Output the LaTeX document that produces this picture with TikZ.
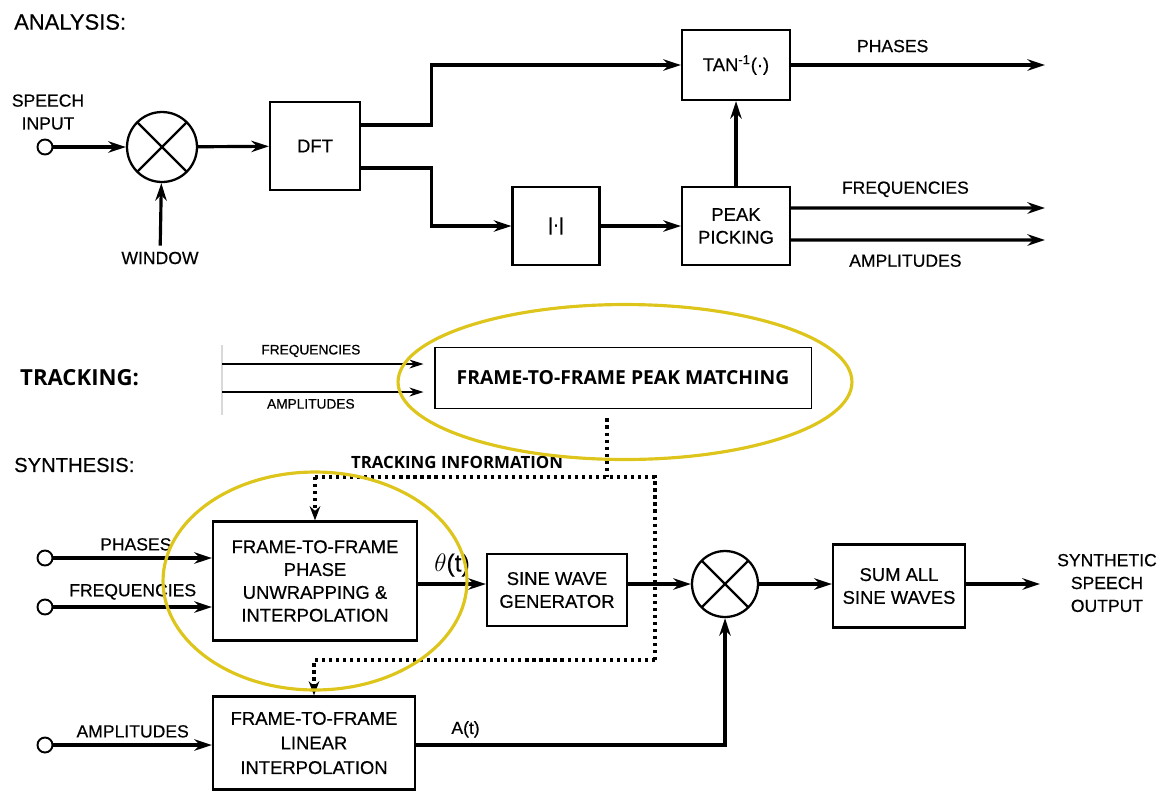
\documentclass[tikz,border=0pt]{standalone}
\usepackage{fontspec}
\setmainfont{Liberation Sans}[FakeBold=0.5]
\newfontfamily\notefont{Open Sans}
\usetikzlibrary{positioning, arrows.meta}
\definecolor{ringyellow}{HTML}{DDC51C}

\begin{document}
\begin{tikzpicture}[
        x=0.02cm, y=-0.02cm,
        >={Stealth[length=10pt, width=6.5pt]},
        font=\fontsize{10}{13}\selectfont,
        block/.style={draw, line width=1.3pt, align=center, inner sep=1pt, font=\fontsize{10.5}{13}\selectfont},
        mixer/.style={draw, circle, line width=1.3pt, minimum size=1.4cm, inner sep=0pt,
            path picture={\draw[line width=1.3pt]
                (path picture bounding box.north west) -- (path picture bounding box.south east)
                (path picture bounding box.north east) -- (path picture bounding box.south west);}},
        port/.style={draw, circle, line width=1.1pt, minimum size=0.3cm, inner sep=0pt, fill=white},
        sig/.style={->, line width=1.8pt},
        thinsig/.style={->, line width=1.3pt, >={Stealth[length=8pt, width=5pt]}},
        track/.style={line width=1.8pt, dash pattern=on 1.8pt off 2.2pt},
        trackarrow/.style={track, ->, >={Stealth[length=8pt, width=6pt]}},
        ring/.style={draw=ringyellow, line width=1.8pt},
        heading/.style={anchor=west, font=\fontsize{12.5}{14}\selectfont},
        note/.style={font=\notefont\bfseries\fontsize{9.6}{11}\selectfont},
        small/.style={font=\fontsize{7.8}{9}\selectfont}
    ]
\useasboundingbox (0,0) rectangle (1159,802);

% analysis
\node[heading] (ttlA) at (8,22) {ANALYSIS:};
\node[align=center] (spIn) at (48,112) {SPEECH\\INPUT};
\node[port] (pIn) at (45,147) {};
\node[mixer] (mixA) at (162,147) {};
\node (win) at (160,258) {WINDOW};
\node[block, minimum width=1.8cm, minimum height=1.76cm] (dft) at (315,146) {DFT};
\node[block, minimum width=2.16cm, minimum height=1.4cm] (atan) at (736,65) {TAN\textsuperscript{-1}(·)};
\node[block, minimum width=1.74cm, minimum height=1.56cm] (mag) at (556,226) {|·|};
\node[block, minimum width=2.16cm, minimum height=1.56cm] (peak) at (736,226) {PEAK\\PICKING};
\coordinate (phOut) at (1045,65);
\coordinate (fqOut) at (1045,208);
\coordinate (amOut) at (1045,240);

\draw[sig] (pIn) -- (mixA);
\draw[sig] (win) -- (mixA);
\draw[sig] (mixA) -- (dft);
\draw[sig] ([yshift=0.42cm]dft.east) -- ++(70,0) |- (atan);
\draw[sig] ([yshift=-0.44cm]dft.east) -- ++(70,0) |- (mag);
\draw[sig] (mag) -- (peak);
\draw[sig] (peak) -- (atan);
\draw[sig] (atan) -- node[above=3pt, pos=0.4] {PHASES} (phOut);
\draw[sig] ([yshift=0.36cm]peak.east) -- node[above=2pt, pos=0.45] {FREQUENCIES} (fqOut);
\draw[sig] ([yshift=-0.28cm]peak.east) -- node[below=4pt, pos=0.45] {AMPLITUDES} (amOut);

% tracking
\node[anchor=west, font=\notefont\bfseries\fontsize{12.6}{14}\selectfont] (ttlT) at (14,378) {TRACKING:};
\node[block, line width=1.1pt, font=\notefont\bfseries\fontsize{11}{13}\selectfont,
    minimum width=7.54cm, minimum height=1.22cm] (match) at (623,378) {FRAME-TO-FRAME PEAK MATCHING};
\coordinate (fqIn) at (222,364);
\coordinate (amIn) at (222,392);
\draw[gray!30, line width=0.6pt] ([yshift=0.38cm]fqIn) -- ([yshift=-0.46cm]amIn);
\draw[thinsig, shorten >=0.2cm] (fqIn) -- node[above, small, pos=0.42] {FREQUENCIES} (match.west |- fqIn);
\draw[thinsig, shorten >=0.2cm] (amIn) -- node[below, small, pos=0.42] {AMPLITUDES} (match.west |- amIn);

% synthesis
\node[heading, font=\fontsize{11.5}{14}\selectfont] (ttlS) at (8,465) {SYNTHESIS:};
\node[note] (trInfo) at (457,462) {TRACKING INFORMATION};
\node[port] (pPh) at (45,558) {};
\node[port] (pFq) at (45,607) {};
\node[port] (pAm) at (45,745) {};
\node[block, minimum width=4.08cm, minimum height=2.38cm] (phase) at (315,581)
    {FRAME-TO-FRAME\\PHASE\\UNWRAPPING \&\\INTERPOLATION};
\node[block, minimum width=2.8cm, minimum height=1.44cm] (sine) at (557,590) {SINE WAVE\\GENERATOR};
\node[mixer, minimum size=1.32cm] (mixS) at (725,584) {};
\node[block, minimum width=2.64cm, minimum height=1.66cm] (sum) at (899,586) {SUM ALL\\SINE WAVES};
\coordinate (synOut) at (1040,584);
\node[align=center] (synLbl) at (1107,583) {SYNTHETIC\\SPEECH\\OUTPUT};
\node[block, minimum width=4.04cm, minimum height=1.86cm, font=\fontsize{10.5}{14}\selectfont] (lin) at (314,743)
    {FRAME-TO-FRAME\\LINEAR\\INTERPOLATION};

\draw[sig] (pPh) -- node[above, pos=0.52] {PHASES} (phase.west |- pPh);
\draw[sig] (pFq) -- node[above] {FREQUENCIES} (phase.west |- pFq);
\draw[sig] (pAm) -- node[above] {AMPLITUDES} (lin.west |- pAm);
\draw[sig] (phase.east |- mixS) -- node[above, font=\fontsize{14}{14}\selectfont] {$\theta$(t)} (sine.west |- mixS);
\draw[sig] (sine.east |- mixS) -- (mixS);
\draw[sig] (mixS) -- (sum.west |- mixS);
\draw[sig] (sum.east |- mixS) -- (synOut);
\draw[sig] (lin.east |- pAm) -| node[above, pos=0.08] {A(t)} (mixS);

% tracking information (dotted)
\coordinate (tiT) at ([xshift=-0.32cm, yshift=-0.18cm]match.south);
\coordinate (tiL) at (315,477);
\coordinate (tiR) at (655,477);
\coordinate (tiB) at (655,660);
\draw[track] (tiT) -- (tiT |- tiL);
\draw[track] (tiL) -- (tiR) -- (tiB);
\draw[trackarrow] (tiB) -| (lin);
\draw[trackarrow] (tiL) -- (phase);

% highlights
\draw[ring] (625,382) ellipse [x radius=4.54cm, y radius=1.55cm];
\draw[ring] (315,581) ellipse [x radius=3.04cm, y radius=2.18cm];
\end{tikzpicture}
\end{document}
